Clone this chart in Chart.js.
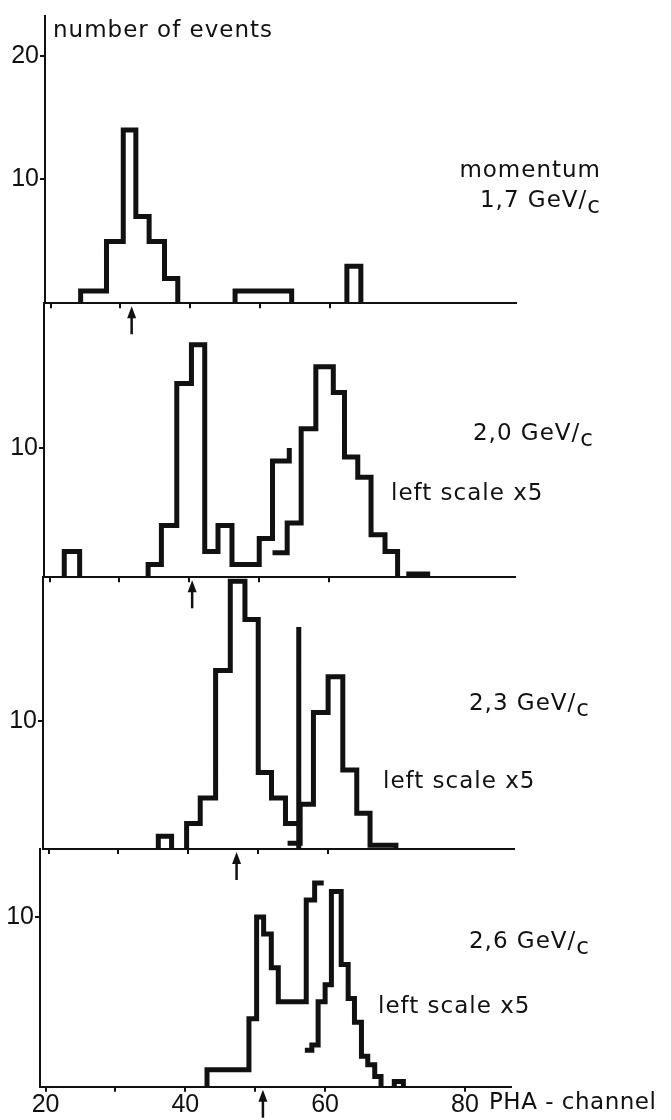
<!DOCTYPE html>
<html>
<head>
<meta charset="utf-8">
<script src="https://cdn.jsdelivr.net/npm/chart.js@4.4.1/dist/chart.umd.min.js"></script>
<style>
  html, body { margin: 0; padding: 0; background: #fff; }
  #wrap { position: relative; width: 671px; height: 1120px; overflow: hidden;
          font-family: "DejaVu Sans", sans-serif; color: #111; }
  #wrap canvas { position: absolute; left: 0; top: 0; }
  .lbl { position: absolute; font-size: 23px; line-height: 1; letter-spacing: 1px; white-space: nowrap; }
  .r { text-align: right; }
  .sub { position: relative; top: 0.28em; }
</style>
</head>
<body>
<div id="wrap">
  <canvas id="p1" width="671" height="1120"></canvas>
  <canvas id="p2" width="671" height="1120"></canvas>
  <canvas id="p3" width="671" height="1120"></canvas>
  <canvas id="p4" width="671" height="1120"></canvas>

  <div class="lbl" style="left:53px;top:18px">number of events</div>
  <div class="lbl r" style="right:70px;top:158px">momentum</div>
  <div class="lbl r" style="right:70px;top:188px">1,7 GeV/<span class="sub">c</span></div>
  <div class="lbl r" style="right:77px;top:421px">2,0 GeV/<span class="sub">c</span></div>
  <div class="lbl" style="left:391px;top:481px">left scale x5</div>
  <div class="lbl r" style="right:81px;top:691px">2,3 GeV/<span class="sub">c</span></div>
  <div class="lbl" style="left:383px;top:769px">left scale x5</div>
  <div class="lbl r" style="right:81px;top:929px">2,6 GeV/<span class="sub">c</span></div>
  <div class="lbl" style="left:378px;top:994px">left scale x5</div>
  <div class="lbl" style="left:489px;top:1090px;letter-spacing:0.5px">PHA - channel</div>
</div>

<script>
/* ── DATA ───────────────────────────────────────────────────── */
/* x = PHA channel (bin edges), y = number of events; null = no bin drawn */
const xMin = 19.2;
const xMax = 86.6;
const xTicksTop    = [20, 30, 40, 50, 60];
const xTicksBottom = [20, 30, 40, 50, 60, 80];
const xLabels      = [20, 40, 60, 80];
const yMax   = [23.2, 21.2, 21.3, 14.0];
const yTicks = [[10, 20], [10], [10], [10]];
const arrowChannels = [31.6, 40.4, 46.9, 51.1];

/* 1,7 GeV/c */
const p1Edges  = [24.3, 28.0, 30.4, 32.2, 34.1, 36.3, 38.2, 46.4, 54.5, 62.4, 64.4];
const p1Counts = [1, 5, 14, 7, 5, 2, null, 1, null, 3];

/* 2,0 GeV/c */
const p2aEdges  = [22.1, 24.3, 34.1, 36.0, 38.2, 40.3, 42.2, 44.1, 46.1, 50.0, 51.9, 54.3];
const p2aCounts = [2, null, 1, 4, 15, 18, 2, 4, 1, 3, 9];
const p2aEnd    = [10];
const p2bEdges  = [51.9, 54.0, 56.0, 58.1, 60.6, 62.2, 64.1, 66.0, 68.0, 69.8, 71.4, 74.1];
const p2bCounts = [1.9, 4.2, 11.5, 16.3, 14.3, 9.3, 7.75, 3.3, 2.0, null, 0.25];
const p2bStart  = [1.9];

/* 2,3 GeV/c */
const p3aEdges  = [35.7, 37.6, 39.75, 41.7, 43.9, 46.0, 48.1, 50.0, 51.9, 53.9, 55.8];
const p3aCounts = [1, null, 2, 4, 14, 21, 18, 6, 4, 2];
const p3aEnd    = [17.4, 0];
const p3bEdges  = [54.2, 56.0, 57.9, 60.0, 62.1, 64.1, 66.0, 69.7];
const p3bCounts = [0.45, 3.5, 10.7, 13.5, 6.2, 2.8, 0.3];
const p3bStart  = [0.45];

/* 2,6 GeV/c */
const p4aEdges  = [43.1, 49.1, 50.2, 51.2, 52.3, 53.3, 57.3, 58.5, 59.8];
const p4aCounts = [1, 4, 10, 9, 7, 5, 11, 12];
const p4aEnd    = [];
const p4bEdges  = [57.1, 58.1, 59.0, 60.0, 60.9, 62.3, 63.3, 64.2, 65.2, 66.1, 67.1, 68.0, 69.9, 71.2];
const p4bCounts = [2.15, 2.45, 5, 6, 11.5, 7.2, 5.2, 3.8, 1.8, 1.3, 0.6, null, 0.3];
const p4bStart  = [2.15];

/* ── LAYOUT (pixels of the 671x1120 page) ───────────────────── */
const panelTop  = [10, 303.3, 577.3, 849];
const panelBase = [303.3, 577.3, 849, 1086.7];
const panelLeft = [45, 44, 43, 40];
const plotWidth = 471;
const INK  = '#111';
const NUM_FONT = "'Liberation Sans', Arial, sans-serif";

/* ── STEP HISTOGRAM POINTS ──────────────────────────────────── */
/* Turns edges + counts into points for a stepped:'after' line; null counts break the line */
function stepPoints(edges, counts, start = [0], end = [0]) {
  const pts = [];
  let open = false;
  counts.forEach((c, i) => {
    if (c === null) {
      if (open) {
        pts.push({ x: edges[i], y: 0 });
        pts.push({ x: edges[i], y: null });
        open = false;
      }
      return;
    }
    if (!open) {
      const first = pts.length === 0 ? start : [0];
      first.forEach(s => pts.push({ x: edges[i], y: s }));
      open = true;
    }
    pts.push({ x: edges[i + 1], y: c });
  });
  if (open) end.forEach(l => pts.push({ x: edges[counts.length], y: l }));
  return pts;
}

function histDataset(points) {
  return {
    data: points,
    stepped: 'after',
    borderColor: INK,
    borderWidth: 5,
    borderJoinStyle: 'miter',
    borderCapStyle: 'butt',
    pointRadius: 0,
    fill: false,
    spanGaps: false,
    clip: false,
  };
}

/* ── ARROW UNDER EACH BASELINE ──────────────────────────────── */
const arrowPlugin = {
  id: 'arrow',
  afterDatasetsDraw(chart, args, opts) {
    const { ctx, chartArea, scales } = chart;
    const x  = scales.x.getPixelForValue(opts.channel);
    const y0 = chartArea.bottom + 3;
    const y1 = chartArea.bottom + 31;
    ctx.save();
    ctx.strokeStyle = INK;
    ctx.fillStyle = INK;
    ctx.lineWidth = 2.5;
    ctx.beginPath();
    ctx.moveTo(x, y1);
    ctx.lineTo(x, y0 + 8);
    ctx.stroke();
    ctx.beginPath();
    ctx.moveTo(x, y0);
    ctx.lineTo(x - 4.5, y0 + 12);
    ctx.lineTo(x + 4.5, y0 + 12);
    ctx.closePath();
    ctx.fill();
    ctx.restore();
  },
};

/* ── ONE PANEL ──────────────────────────────────────────────── */
function renderPanel(i, datasets) {
  const bottom = i === 3;
  const xTicks = bottom ? xTicksBottom : xTicksTop;
  /* the bottom panel keeps room under its axis for the tick labels */
  const axisH  = bottom ? 1120 - panelBase[i] : 0;
  new Chart(document.getElementById('p' + (i + 1)), {
    type: 'line',
    data: { datasets },
    options: {
      responsive: false,
      animation: false,
      events: [],
      layout: {
        padding: {
          left: 0,
          right: 671 - panelLeft[i] - plotWidth,
          top: panelTop[i],
          bottom: 1120 - panelBase[i] - axisH,
        },
      },
      plugins: {
        legend: { display: false },
        tooltip: { enabled: false },
        arrow: { channel: arrowChannels[i] },
      },
      scales: {
        x: {
          type: 'linear',
          min: xMin,
          max: xMax,
          afterFit: s => { s.height = axisH; },
          afterBuildTicks: s => { s.ticks = xTicks.map(v => ({ value: v })); },
          border: { display: true, color: INK, width: 2 },
          grid: { drawOnChartArea: false, drawTicks: true, tickLength: 5, color: INK, lineWidth: 2 },
          ticks: {
            display: bottom,
            autoSkip: false,
            maxRotation: 0,
            padding: -2,
            color: INK,
            font: { family: NUM_FONT, size: 25 },
            callback: v => (xLabels.includes(v) ? String(v) : ''),
          },
        },
        y: {
          min: 0,
          max: yMax[i],
          afterFit: s => { s.width = panelLeft[i]; },
          afterBuildTicks: s => { s.ticks = yTicks[i].map(v => ({ value: v })); },
          border: { display: true, color: INK, width: 2 },
          grid: { drawOnChartArea: false, drawTicks: true, tickLength: 5, color: INK, lineWidth: 2 },
          ticks: { padding: 1, color: INK, font: { family: NUM_FONT, size: 25 } },
        },
      },
    },
    plugins: [arrowPlugin],
  });
}

/* ── INITIALISE ─────────────────────────────────────────────── */
renderPanel(0, [histDataset(stepPoints(p1Edges, p1Counts))]);
renderPanel(1, [
  histDataset(stepPoints(p2aEdges, p2aCounts, [0], p2aEnd)),
  histDataset(stepPoints(p2bEdges, p2bCounts, p2bStart)),
]);
renderPanel(2, [
  histDataset(stepPoints(p3aEdges, p3aCounts, [0], p3aEnd)),
  histDataset(stepPoints(p3bEdges, p3bCounts, p3bStart)),
]);
renderPanel(3, [
  histDataset(stepPoints(p4aEdges, p4aCounts, [0], p4aEnd)),
  histDataset(stepPoints(p4bEdges, p4bCounts, p4bStart)),
]);
</script>
</body>
</html>
